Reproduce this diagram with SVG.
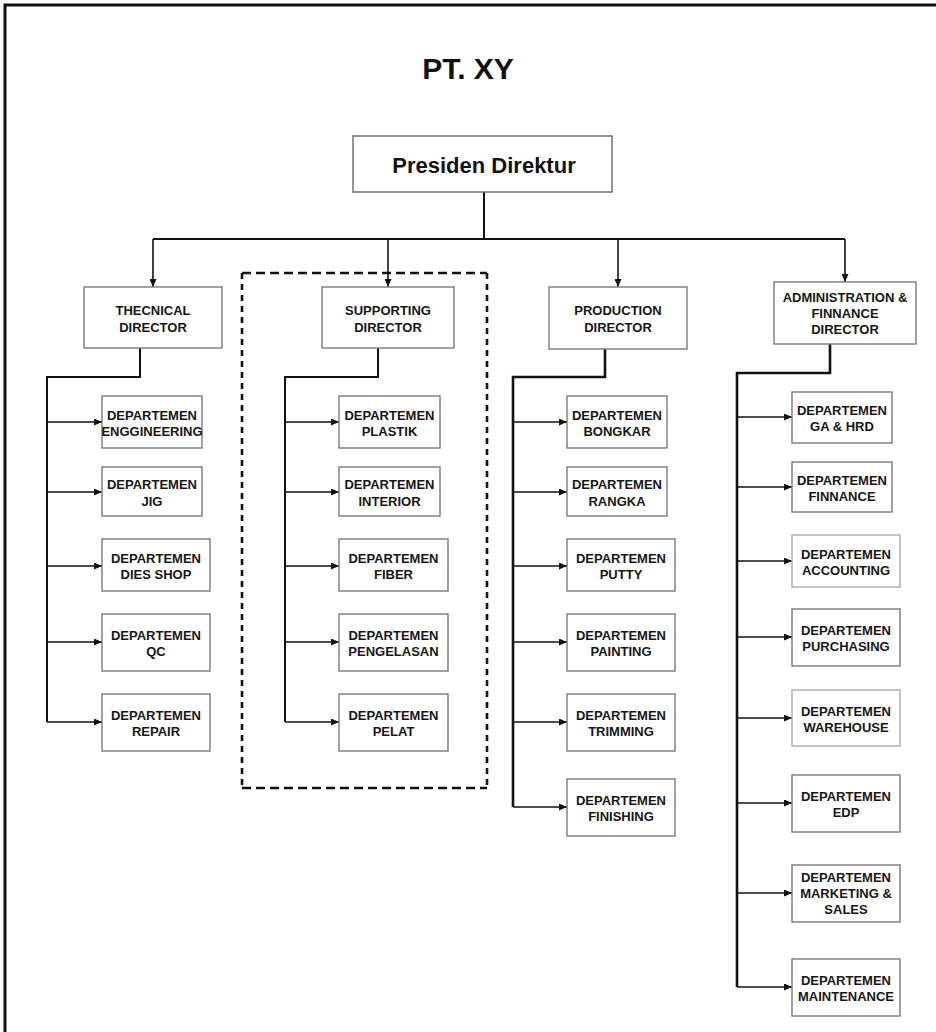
<svg xmlns="http://www.w3.org/2000/svg" width="936" height="1032" viewBox="0 0 936 1032">
<style>
.bx{fill:#fff;stroke:#7a7a7a;stroke-width:1.4}
.t{font-family:"Liberation Sans",Arial,sans-serif;font-weight:bold;font-size:13px;fill:#161616;text-anchor:middle}
.c{fill:none;stroke:#111;stroke-width:2}
.ca{fill:none;stroke:#111;stroke-width:1.6;marker-end:url(#ah)}
.dh{stroke:#111;stroke-width:2.6;stroke-dasharray:9 5;fill:none}
.dv{stroke:#111;stroke-width:2.6;stroke-dasharray:6 5;fill:none}
</style>
<defs>
<marker id="ah" markerUnits="userSpaceOnUse" markerWidth="8" markerHeight="7" refX="8" refY="3.5" orient="auto">
<path d="M0,0 L8,3.5 L0,7 z" fill="#111"/>
</marker>
</defs>
<rect x="0" y="0" width="936" height="1032" fill="#fff"/>
<rect x="5" y="5" width="945" height="1045" fill="none" stroke="#111" stroke-width="3"/>
<text x="468" y="79" font-family="Liberation Sans,Arial,sans-serif" font-weight="bold" font-size="30" fill="#111" text-anchor="middle">PT. XY</text>

<g id="dashed-group">
<line class="dh" x1="242" y1="273" x2="487" y2="273"/>
<line class="dh" x1="242" y1="788" x2="487" y2="788"/>
<line class="dv" x1="242" y1="273" x2="242" y2="788"/>
<line class="dv" x1="487" y1="273" x2="487" y2="788"/>
</g>

<g id="connectors">
<path class="c" d="M484,192 V239 M153,239 H845"/>
<path class="ca" d="M153,239 V287"/>
<path class="ca" d="M388,239 V287"/>
<path class="ca" d="M618,239 V287"/>
<path class="ca" d="M845,239 V282"/>
<path class="c" d="M140,348 V377 H47 V722"/>
<path class="ca" d="M47,422 H102"/><path class="ca" d="M47,492 H102"/><path class="ca" d="M47,566 H102"/><path class="ca" d="M47,642 H102"/><path class="ca" d="M47,722 H102"/>
<path class="c" d="M378,348 V377 H285 V722"/>
<path class="ca" d="M285,422 H339"/><path class="ca" d="M285,492 H339"/><path class="ca" d="M285,566 H339"/><path class="ca" d="M285,642 H339"/><path class="ca" d="M285,722 H339"/>
<path class="c" style="stroke-width:2.6" d="M605,349 V377 H513 V807"/>
<path class="ca" d="M513,422 H567"/><path class="ca" d="M513,492 H567"/><path class="ca" d="M513,566 H567"/><path class="ca" d="M513,642 H567"/><path class="ca" d="M513,722 H567"/><path class="ca" d="M513,807 H567"/>
<path class="c" style="stroke-width:2.6" d="M830,344 V373 H737 V987"/>
<path class="ca" d="M737,417 H792"/><path class="ca" d="M737,487 H792"/><path class="ca" d="M737,561 H792"/><path class="ca" d="M737,637 H792"/><path class="ca" d="M737,718 H792"/><path class="ca" d="M737,803 H792"/><path class="ca" d="M737,893 H792"/><path class="ca" d="M737,987 H792"/>
</g>

<g id="presiden"><rect class="bx" x="353" y="136" width="259" height="56" style="stroke:#666"/><text x="484" y="173" font-family="Liberation Sans,Arial,sans-serif" font-weight="bold" font-size="22" fill="#111" text-anchor="middle">Presiden Direktur</text></g>

<g id="technical"><rect class="bx" x="84" y="287" width="138" height="61"/><text class="t" x="153" y="315">THECNICAL</text><text class="t" x="153" y="332">DIRECTOR</text></g>
<g id="supporting"><rect class="bx" x="322" y="287" width="132" height="61"/><text class="t" x="388" y="315">SUPPORTING</text><text class="t" x="388" y="332">DIRECTOR</text></g>
<g id="production"><rect class="bx" x="549" y="287" width="138" height="62"/><text class="t" x="618" y="315">PRODUCTION</text><text class="t" x="618" y="332">DIRECTOR</text></g>
<g id="admin"><rect class="bx" x="774" y="282" width="142" height="62"/><text class="t" x="845" y="302">ADMINISTRATION &amp;</text><text class="t" x="845" y="318">FINNANCE</text><text class="t" x="845" y="334">DIRECTOR</text></g>

<g id="t-eng"><rect class="bx" x="102" y="396" width="100" height="52"/><text class="t" x="152" y="420">DEPARTEMEN</text><text class="t" x="152" y="436">ENGGINEERING</text></g>
<g id="t-jig"><rect class="bx" x="102" y="467" width="100" height="49"/><text class="t" x="152" y="489">DEPARTEMEN</text><text class="t" x="152" y="506">JIG</text></g>
<g id="t-dies"><rect class="bx" x="102" y="539" width="108" height="52"/><text class="t" x="156" y="563">DEPARTEMEN</text><text class="t" x="156" y="579">DIES SHOP</text></g>
<g id="t-qc"><rect class="bx" x="102" y="614" width="108" height="57"/><text class="t" x="156" y="640">DEPARTEMEN</text><text class="t" x="156" y="656">QC</text></g>
<g id="t-repair"><rect class="bx" x="102" y="694" width="108" height="57"/><text class="t" x="156" y="720">DEPARTEMEN</text><text class="t" x="156" y="736">REPAIR</text></g>

<g id="s-plastik"><rect class="bx" x="339" y="396" width="101" height="52"/><text class="t" x="389.5" y="420">DEPARTEMEN</text><text class="t" x="389.5" y="436">PLASTIK</text></g>
<g id="s-interior"><rect class="bx" x="339" y="467" width="101" height="49"/><text class="t" x="389.5" y="489">DEPARTEMEN</text><text class="t" x="389.5" y="506">INTERIOR</text></g>
<g id="s-fiber"><rect class="bx" x="339" y="539" width="109" height="52"/><text class="t" x="393.5" y="563">DEPARTEMEN</text><text class="t" x="393.5" y="579">FIBER</text></g>
<g id="s-pengelasan"><rect class="bx" x="339" y="614" width="109" height="57"/><text class="t" x="393.5" y="640">DEPARTEMEN</text><text class="t" x="393.5" y="656">PENGELASAN</text></g>
<g id="s-pelat"><rect class="bx" x="339" y="694" width="109" height="57"/><text class="t" x="393.5" y="720">DEPARTEMEN</text><text class="t" x="393.5" y="736">PELAT</text></g>

<g id="p-bongkar"><rect class="bx" x="567" y="396" width="100" height="52"/><text class="t" x="617" y="420">DEPARTEMEN</text><text class="t" x="617" y="436">BONGKAR</text></g>
<g id="p-rangka"><rect class="bx" x="567" y="467" width="100" height="49"/><text class="t" x="617" y="489">DEPARTEMEN</text><text class="t" x="617" y="506">RANGKA</text></g>
<g id="p-putty"><rect class="bx" x="567" y="539" width="108" height="52"/><text class="t" x="621" y="563">DEPARTEMEN</text><text class="t" x="621" y="579">PUTTY</text></g>
<g id="p-painting"><rect class="bx" x="567" y="614" width="108" height="57"/><text class="t" x="621" y="640">DEPARTEMEN</text><text class="t" x="621" y="656">PAINTING</text></g>
<g id="p-trimming"><rect class="bx" x="567" y="694" width="108" height="57"/><text class="t" x="621" y="720">DEPARTEMEN</text><text class="t" x="621" y="736">TRIMMING</text></g>
<g id="p-finishing"><rect class="bx" x="567" y="779" width="108" height="57"/><text class="t" x="621" y="805">DEPARTEMEN</text><text class="t" x="621" y="821">FINISHING</text></g>

<g id="a-gahrd"><rect class="bx" x="792" y="392" width="100" height="51"/><text class="t" x="842" y="415">DEPARTEMEN</text><text class="t" x="842" y="431">GA &amp; HRD</text></g>
<g id="a-finnance"><rect class="bx" x="792" y="462" width="100" height="50"/><text class="t" x="842" y="485">DEPARTEMEN</text><text class="t" x="842" y="501">FINNANCE</text></g>
<g id="a-accounting"><rect class="bx" x="792" y="535" width="108" height="52" style="stroke:#aaa"/><text class="t" x="846" y="559">DEPARTEMEN</text><text class="t" x="846" y="575">ACCOUNTING</text></g>
<g id="a-purchasing"><rect class="bx" x="792" y="609" width="108" height="57"/><text class="t" x="846" y="635">DEPARTEMEN</text><text class="t" x="846" y="651">PURCHASING</text></g>
<g id="a-warehouse"><rect class="bx" x="792" y="690" width="108" height="56" style="stroke:#aaa"/><text class="t" x="846" y="716">DEPARTEMEN</text><text class="t" x="846" y="732">WAREHOUSE</text></g>
<g id="a-edp"><rect class="bx" x="792" y="775" width="108" height="57"/><text class="t" x="846" y="801">DEPARTEMEN</text><text class="t" x="846" y="817">EDP</text></g>
<g id="a-marketing"><rect class="bx" x="792" y="865" width="108" height="57"/><text class="t" x="846" y="882">DEPARTEMEN</text><text class="t" x="846" y="898">MARKETING &amp;</text><text class="t" x="846" y="914">SALES</text></g>
<g id="a-maintenance"><rect class="bx" x="792" y="959" width="108" height="57"/><text class="t" x="846" y="985">DEPARTEMEN</text><text class="t" x="846" y="1001">MAINTENANCE</text></g>
</svg>
